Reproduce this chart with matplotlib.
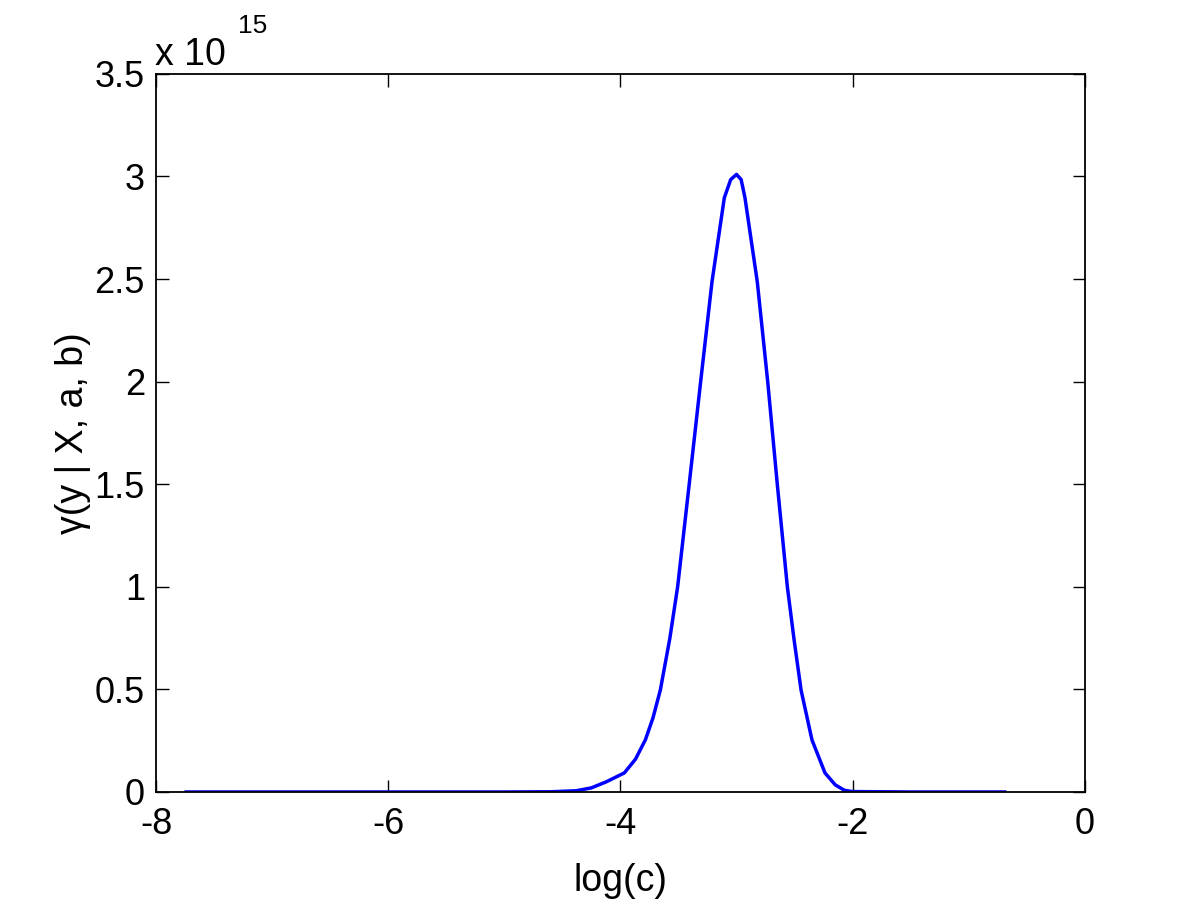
import matplotlib
matplotlib.use("Agg")
import matplotlib.pyplot as plt
from matplotlib.ticker import FixedLocator, FuncFormatter

plt.rcParams['font.family'] = ['Liberation Sans', 'DejaVu Sans']

# data (values in units of 1e15)
log_c = [-7.74, -6.0, -5.0, -4.6, -4.38, -4.25, -4.12, -3.966, -3.87, -3.785, -3.72,
         -3.656, -3.575, -3.507, -3.407, -3.309, -3.211, -3.105, -3.05, -3.0,
         -2.96, -2.927, -2.821, -2.731, -2.649, -2.562, -2.505, -2.444, -2.35,
         -2.238, -2.15, -2.07, -2.0, -1.5, -0.69]
gamma = [0.0, 0.0, 0.0, 0.001, 0.006, 0.02, 0.05, 0.093, 0.16, 0.254, 0.36,
         0.497, 0.746, 1.0, 1.502, 1.999, 2.487, 2.896, 2.985, 3.01,
         2.985, 2.896, 2.487, 1.999, 1.502, 1.0, 0.746, 0.497, 0.254,
         0.093, 0.035, 0.008, 0.002, 0.0, 0.0]
scale_exp = 15
x_ticks = [-8, -6, -4, -2, 0]
y_ticks = [0, 0.5, 1, 1.5, 2, 2.5, 3, 3.5]

fig = plt.figure(figsize=(12, 9.01), dpi=100)
ax = fig.add_axes([0.13, 0.121, 0.774, 0.797])
ax.plot(log_c, gamma, color=(0, 0, 1), linewidth=2.5, solid_joinstyle='round')
ax.set_xlim(-8, 0)
ax.set_ylim(0, 3.5)
ax.xaxis.set_major_locator(FixedLocator(x_ticks))
ax.yaxis.set_major_locator(FixedLocator(y_ticks))
ax.xaxis.set_major_formatter(FuncFormatter(lambda v, p: f"{v:g}"))
ax.yaxis.set_major_formatter(FuncFormatter(lambda v, p: f"{v:g}"))
ax.tick_params(direction='in', length=9, width=1.0, top=True, right=True,
               labelsize=26)
ax.tick_params(axis='x', pad=11)
ax.tick_params(axis='y', pad=8)
for s in ax.spines.values():
    s.set_linewidth(1.3)
ax.set_xlabel("log(c)", fontsize=27, va='center')
ax.xaxis.set_label_coords(0.5, -0.124)
ax.set_ylabel("γ(y | X, a, b)", fontsize=27, va='center')
ax.yaxis.set_label_coords(-0.089, 0.5)
fig.text(0.129, 0.928, "x 10", fontsize=27, ha='left', va='baseline')
fig.text(0.198, 0.963, str(scale_exp), fontsize=19, ha='left', va='baseline')
fig.savefig("out.png", dpi=100, facecolor='white')
